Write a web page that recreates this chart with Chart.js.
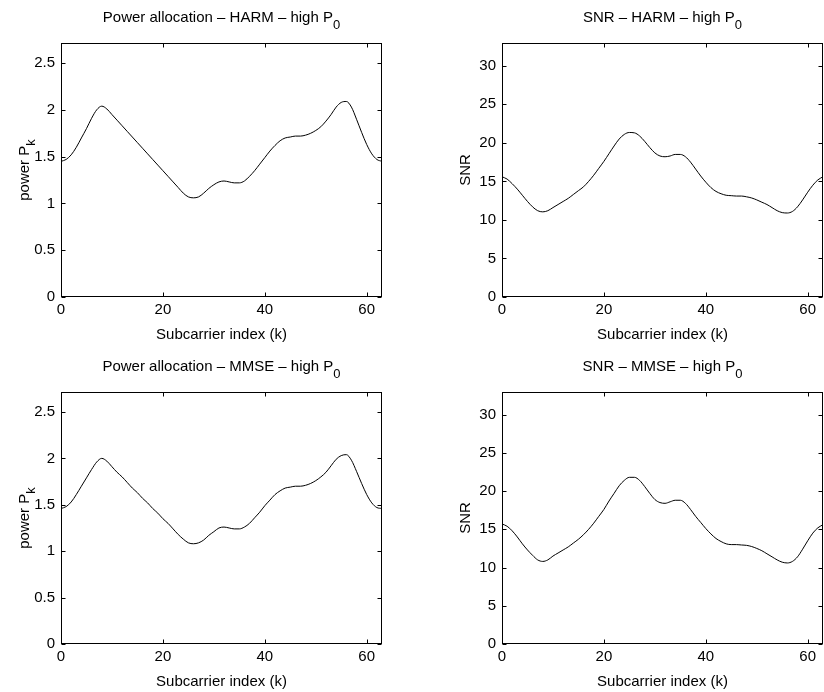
<!DOCTYPE html>
<html>
<head>
<meta charset="utf-8">
<script src="https://cdn.jsdelivr.net/npm/chart.js@4.4.1/dist/chart.umd.min.js"></script>
<style>
  body { margin: 0; background: #fff; width: 824px; height: 692px; position: relative; overflow: hidden; }
  canvas { position: absolute; }
</style>
</head>
<body>
<canvas id="powerHarm" width="412" height="346" style="left:0;top:0"></canvas>
<canvas id="snrHarm" width="412" height="346" style="left:412px;top:0"></canvas>
<canvas id="powerMmse" width="412" height="346" style="left:0;top:346px"></canvas>
<canvas id="snrMmse" width="412" height="346" style="left:412px;top:346px"></canvas>
<script>
// subcarrier index k
const subcarrier = [0,1,2,3,4,5,6,7,8,9,10,11,12,13,14,15,16,17,18,19,20,21,22,23,24,25,26,27,28,29,30,31,
  32,33,34,35,36,37,38,39,40,41,42,43,44,45,46,47,48,49,50,51,52,53,54,55,56,57,58,59,60,61,62,63];

const powerHarm = [1.45,1.47,1.52,1.60,1.70,1.80,1.91,2.00,2.04,2.01,1.95,1.89,1.83,1.77,1.71,1.65,
  1.59,1.53,1.47,1.41,1.35,1.29,1.23,1.17,1.11,1.07,1.06,1.07,1.11,1.16,1.20,1.23,
  1.24,1.23,1.22,1.22,1.24,1.29,1.35,1.42,1.49,1.56,1.62,1.67,1.70,1.71,1.72,1.72,
  1.73,1.75,1.78,1.82,1.88,1.95,2.03,2.08,2.09,2.03,1.90,1.76,1.63,1.53,1.47,1.45];

const snrHarm = [15.6,15.3,14.7,14.0,13.2,12.4,11.7,11.2,11.05,11.2,11.6,12.0,12.4,12.8,13.3,13.8,
  14.3,15.0,15.8,16.7,17.6,18.6,19.6,20.5,21.1,21.35,21.3,20.9,20.2,19.4,18.7,18.3,
  18.2,18.3,18.5,18.5,18.2,17.5,16.6,15.7,14.9,14.2,13.7,13.4,13.2,13.15,13.1,13.1,
  13.0,12.85,12.6,12.3,12.0,11.6,11.2,10.95,10.9,11.1,11.7,12.6,13.6,14.5,15.2,15.6];

const powerMmse = [1.46,1.48,1.53,1.61,1.70,1.79,1.88,1.96,2.00,1.97,1.91,1.85,1.80,1.74,1.68,1.63,
  1.57,1.52,1.46,1.41,1.35,1.30,1.24,1.18,1.13,1.09,1.08,1.09,1.12,1.17,1.21,1.25,
  1.26,1.25,1.24,1.24,1.26,1.30,1.36,1.42,1.49,1.55,1.61,1.65,1.68,1.69,1.70,1.70,
  1.71,1.73,1.76,1.80,1.85,1.92,1.99,2.03,2.04,1.98,1.86,1.73,1.61,1.52,1.47,1.46];

const snrMmse = [15.7,15.4,14.8,14.0,13.1,12.3,11.6,11.0,10.8,11.0,11.5,11.9,12.3,12.7,13.2,13.7,
  14.3,15.0,15.8,16.7,17.6,18.7,19.7,20.7,21.4,21.8,21.8,21.4,20.6,19.7,18.9,18.5,
  18.4,18.6,18.8,18.8,18.4,17.6,16.7,15.9,15.1,14.4,13.8,13.4,13.1,13.0,13.0,12.95,
  12.9,12.75,12.5,12.2,11.8,11.4,11.0,10.7,10.6,10.8,11.4,12.4,13.5,14.5,15.2,15.6];

const FONT = '"Liberation Sans", Arial, Helvetica, sans-serif';

// text with an optional subscript, centred on x
function drawSub(ctx, main, sub, x, y, size, subSize, drop) {
  ctx.font = size + 'px ' + FONT;
  const w1 = ctx.measureText(main).width;
  ctx.font = subSize + 'px ' + FONT;
  const w2 = sub ? ctx.measureText(sub).width : 0;
  const sx = x - (w1 + w2) / 2;
  ctx.textAlign = 'left';
  ctx.textBaseline = 'alphabetic';
  ctx.font = size + 'px ' + FONT;
  ctx.fillText(main, sx, y);
  if (sub) {
    ctx.font = subSize + 'px ' + FONT;
    ctx.fillText(sub, sx + w1, y + drop);
  }
}

// matlab style box, inward ticks, title and axis labels
const matlabFrame = {
  id: 'matlabFrame',
  afterDraw(chart, args, opts) {
    const ctx = chart.ctx;
    const a = chart.chartArea;
    const sx = chart.scales.x, sy = chart.scales.y;
    const L = Math.round(a.left) + 0.5, R = Math.round(a.right) - 0.5;
    const T = Math.round(a.top) + 0.5, B = Math.round(a.bottom) - 0.5;
    ctx.save();
    ctx.strokeStyle = '#000';
    ctx.lineWidth = 1;
    ctx.strokeRect(L, T, R - L, B - T);
    ctx.beginPath();
    sx.ticks.forEach(t => {
      const px = Math.round(sx.getPixelForValue(t.value)) + 0.5;
      ctx.moveTo(px, B); ctx.lineTo(px, B - 4);
      ctx.moveTo(px, T); ctx.lineTo(px, T + 4);
    });
    sy.ticks.forEach(t => {
      const py = Math.round(sy.getPixelForValue(t.value)) + 0.5;
      ctx.moveTo(L, py); ctx.lineTo(L + 4, py);
      ctx.moveTo(R, py); ctx.lineTo(R - 4, py);
    });
    ctx.stroke();

    ctx.fillStyle = '#000';
    const cx = (a.left + a.right) / 2, cy = (a.top + a.bottom) / 2;
    drawSub(ctx, opts.title, opts.titleSub, cx, a.top - 21, 15, 13, 7);
    drawSub(ctx, opts.xlabel, '', cx, a.bottom + 42, 15, 13, 0);
    ctx.translate(a.left - 32, cy);
    ctx.rotate(-Math.PI / 2);
    drawSub(ctx, opts.ylabel, opts.ylabelSub, 0, 0, 15, 13, 6);
    ctx.restore();
  }
};

function makeChart(id, values, yMax, yStep, texts, pad) {
  const ctx = document.getElementById(id).getContext('2d');
  return new Chart(ctx, {
    type: 'line',
    data: {
      datasets: [{
        data: subcarrier.map((k, i) => ({ x: k, y: values[i] })),
        borderColor: '#000',
        borderWidth: 1,
        pointRadius: 0,
        fill: false,
        cubicInterpolationMode: 'monotone'
      }]
    },
    options: {
      responsive: false,
      animation: false,
      layout: { padding: pad },
      plugins: {
        legend: { display: false },
        tooltip: { enabled: false },
        matlabFrame: texts
      },
      scales: {
        x: {
          type: 'linear',
          min: 0,
          max: 63,
          grid: { display: false, drawTicks: false },
          border: { display: false },
          ticks: {
            stepSize: 20,
            includeBounds: false,
            maxRotation: 0,
            padding: 4,
            color: '#000',
            font: { family: FONT, size: 15 }
          },
          afterFit: s => { s.height = 30; }
        },
        y: {
          min: 0,
          max: yMax,
          grid: { display: false, drawTicks: false },
          border: { display: false },
          ticks: {
            stepSize: yStep,
            includeBounds: false,
            padding: 6,
            color: '#000',
            font: { family: FONT, size: 15 },
            callback: v => String(+v.toFixed(2))
          },
          afterFit: s => { s.width = 45; }
        }
      }
    },
    plugins: [matlabFrame]
  });
}

const xlab = 'Subcarrier index (k)';

makeChart('powerHarm', powerHarm, 2.715, 0.5,
  { title: 'Power allocation \u2013 HARM \u2013 high P', titleSub: '0', xlabel: xlab, ylabel: 'power P', ylabelSub: 'k' },
  { left: 16, right: 30, top: 43, bottom: 19 });

makeChart('snrHarm', snrHarm, 32.96, 5,
  { title: 'SNR \u2013 HARM \u2013 high P', titleSub: '0', xlabel: xlab, ylabel: 'SNR', ylabelSub: '' },
  { left: 45, right: 1, top: 43, bottom: 19 });

makeChart('powerMmse', powerMmse, 2.715, 0.5,
  { title: 'Power allocation \u2013 MMSE \u2013 high P', titleSub: '0', xlabel: xlab, ylabel: 'power P', ylabelSub: 'k' },
  { left: 16, right: 30, top: 46, bottom: 18 });

makeChart('snrMmse', snrMmse, 32.96, 5,
  { title: 'SNR \u2013 MMSE \u2013 high P', titleSub: '0', xlabel: xlab, ylabel: 'SNR', ylabelSub: '' },
  { left: 45, right: 1, top: 46, bottom: 18 });
</script>
</body>
</html>
